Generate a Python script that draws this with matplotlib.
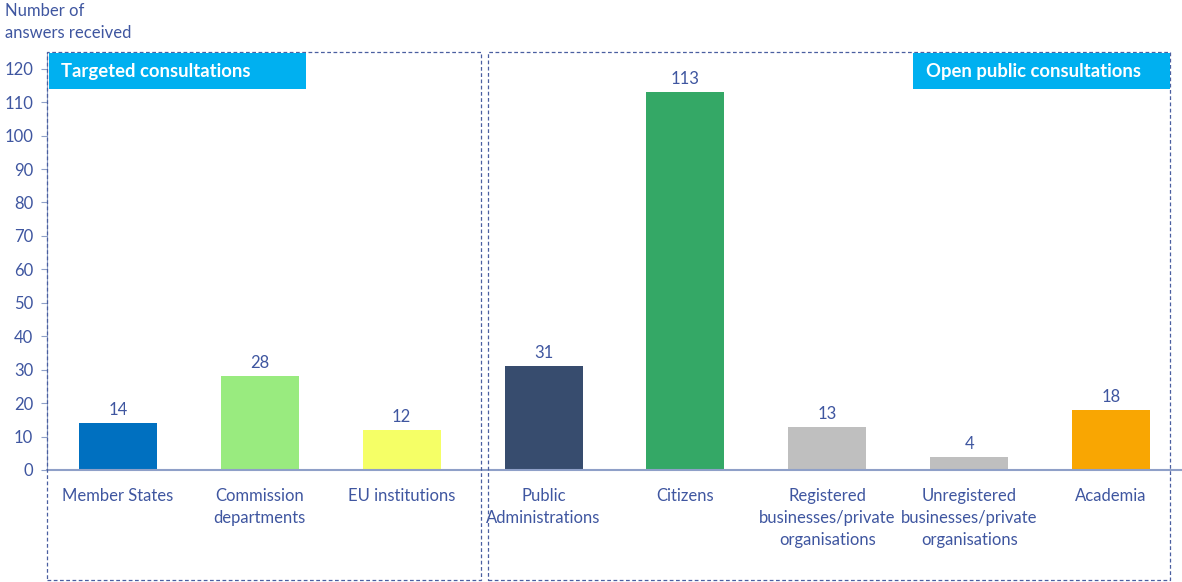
import matplotlib.pyplot as plt
from matplotlib.patches import Rectangle

plt.rcParams['font.family'] = ['Lato', 'DejaVu Sans']

# Data
categories = ['Member States', 'Commission\ndepartments', 'EU institutions',
              'Public\nAdministrations', 'Citizens',
              'Registered\nbusinesses/private\norganisations',
              'Unregistered\nbusinesses/private\norganisations', 'Academia']
answers = [14, 28, 12, 31, 113, 13, 4, 18]
colors = ['#0070C0', '#99EB7F', '#F5FF66', '#374C6E', '#34A866',
          '#BFBFBF', '#BFBFBF', '#F9A602']
group_titles = ['Targeted consultations', 'Open public consultations']

txt_col = '#3F56A0'
W, H = 1182, 582

fig = plt.figure(figsize=(W / 100, H / 100), dpi=100)
ax = fig.add_axes([47 / W, 1 - 470 / H, 1 - 47 / W, (470 - 52) / H])

x = range(len(categories))
bars = ax.bar(x, answers, width=0.55, color=colors)
for b, v in zip(bars, answers):
    ax.text(b.get_x() + b.get_width() / 2, v + 1.5, str(v), ha='center',
            va='bottom', fontsize=12, color=txt_col)

ax.set_xlim(-0.5, len(categories) - 0.5)
ax.set_ylim(0, 125)
ax.set_yticks(range(0, 121, 10))
ax.set_xticks(list(x))
ax.set_xticklabels(categories, fontsize=12, color=txt_col, linespacing=1.45)
ax.tick_params(axis='x', length=0, pad=13)
ax.tick_params(axis='y', labelsize=12, labelcolor=txt_col, color='#8FA0C8',
               length=4, pad=6)
for s in ['top', 'right']:
    ax.spines[s].set_visible(False)
ax.spines['left'].set_color('#8FA0C8')
ax.spines['bottom'].set_color('#8FA0C8')
ax.spines['bottom'].set_linewidth(1.5)

# Dashed group boxes (figure pixel coordinates)
def px_rect(x0, y0, x1, y1, **kw):
    return Rectangle((x0 / W, 1 - y1 / H), (x1 - x0) / W, (y1 - y0) / H,
                     transform=fig.transFigure, **kw)

box_kw = dict(fill=False, edgecolor='#4A5FA0', linestyle=(0, (3, 2)), lw=0.9)
fig.patches.append(px_rect(47, 52, 481, 580, **box_kw))
fig.patches.append(px_rect(488, 52, 1170, 580, **box_kw))

# Group title banners
fig.patches.append(px_rect(49, 53, 306, 89, facecolor='#00B0F0', edgecolor='none'))
fig.patches.append(px_rect(913, 53, 1170, 89, facecolor='#00B0F0', edgecolor='none'))
fig.text(61 / W, 1 - 71 / H, group_titles[0], color='white', fontsize=13.3,
         fontweight='bold', va='center', ha='left')
fig.text(926 / W, 1 - 71 / H, group_titles[1], color='white', fontsize=13.3,
         fontweight='bold', va='center', ha='left')

fig.text(5 / W, 1 - 3 / H, 'Number of\nanswers received', color=txt_col,
         fontsize=12, va='top', ha='left', linespacing=1.5)

fig.savefig('out.png', dpi=100)
